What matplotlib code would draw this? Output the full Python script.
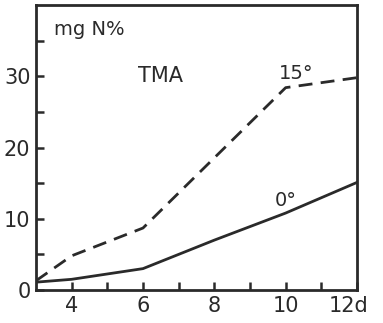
import matplotlib.pyplot as plt
import matplotlib.transforms as mtransforms
import numpy as np

# データ
days_15 = [3, 4, 6, 10, 12]
tma_15 = [1.3, 4.8, 8.7, 28.4, 29.8]
days_0 = [3, 4, 6, 8, 10, 12]
tma_0 = [1.1, 1.5, 3.0, 7.0, 10.8, 15.1]

xticks = [4, 6, 8, 10, 12]
xlabels = ['4', '6', '8', '10', '12d']
yticks = [0, 10, 20, 30]

plt.rcParams['font.family'] = 'DejaVu Sans'
ink = '#2a2a2a'

fig = plt.figure(figsize=(3.83, 3.23), dpi=100)
ax = fig.add_axes([36 / 383, 1 - 290 / 323, 321 / 383, 285 / 323])

ax.plot(days_15, tma_15, color=ink, lw=2.0, ls=(0, (5, 3)))
ax.plot(days_0, tma_0, color=ink, lw=2.0)

ax.set_xlim(3, 12)
ax.set_ylim(0, 40)
ax.set_xticks(xticks)
ax.set_xticklabels(xlabels)
ax.set_xticks([5, 7, 9, 11], minor=True)
ax.set_yticks(yticks)
ax.set_yticks([5, 15, 25, 35], minor=True)
ax.tick_params(which='both', direction='in', length=6, width=1.8, colors=ink,
               labelsize=15, pad=4)
for s in ax.spines.values():
    s.set_linewidth(2.0)
    s.set_color(ink)

# "12d" を少し左へずらす
lab = ax.get_xticklabels()[-1]
lab.set_transform(lab.get_transform() + mtransforms.ScaledTranslation(-6 / 72, 0, fig.dpi_scale_trans))

ax.text(3.5, 36.5, 'mg N%', fontsize=14, color=ink, ha='left', va='center')
ax.text(5.85, 30.0, 'TMA', fontsize=15, color=ink, ha='left', va='center')
ax.text(9.8, 30.4, '15°', fontsize=14, color=ink, ha='left', va='center')
ax.text(9.7, 12.5, '0°', fontsize=14, color=ink, ha='left', va='center')

fig.savefig('out.png', dpi=100)
